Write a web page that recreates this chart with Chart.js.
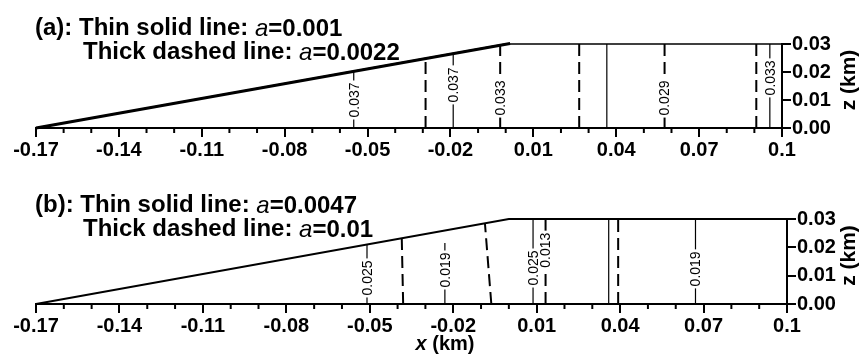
<!DOCTYPE html>
<html>
<head>
<meta charset="utf-8">
<script src="https://cdn.jsdelivr.net/npm/chart.js@4.4.1/dist/chart.umd.min.js"></script>
<style>
body { margin: 0; background: #fff; }
#wrap { position: relative; width: 861px; height: 354px; }
canvas { position: absolute; left: 0; }
</style>
</head>
<body>
<div id="wrap">
  <canvas id="chartA" width="861" height="177" style="top:0px"></canvas>
  <canvas id="chartB" width="861" height="177" style="top:177px"></canvas>
</div>
<script>
// axis ticks
var xTickValues = [-0.17, -0.14, -0.11, -0.08, -0.05, -0.02, 0.01, 0.04, 0.07, 0.1];
var xTickLabels = ['-0.17', '-0.14', '-0.11', '-0.08', '-0.05', '-0.02', '0.01', '0.04', '0.07', '0.1'];
var xMinorValues = [-0.16, -0.15, -0.13, -0.12, -0.10, -0.09, -0.07, -0.06, -0.04, -0.03,
                    -0.01, 0.0, 0.02, 0.03, 0.05, 0.06, 0.08, 0.09];
var zTickValues = [0, 0.01, 0.02, 0.03];
var zTickLabels = ['0.00', '0.01', '0.02', '0.03'];

// domain boundary (beach slope + flat top)
var surfaceX = [-0.17, 0.0, 0.1];
var surfaceZ = [0, 0.03, 0.03];
var aSlopeX = [-0.17, 0.0016];
var aSlopeZ = [0, 0.0302];

// panel (a) contours
var aKind   = ['thin', 'dash', 'thin', 'dash', 'dash', 'thin', 'dash', 'dash', 'thin'];
var aXBot   = [-0.055, -0.029, -0.019, -0.002, 0.0266, 0.0366, 0.0575, 0.0907, 0.0956];
var aXTop   = [-0.055, -0.029, -0.019, -0.002, 0.0266, 0.0366, 0.0575, 0.0907, 0.0956];
var aZTop   = [0.0203, 0.0249, 0.0266, 0.0296, 0.03, 0.03, 0.03, 0.03, 0.03];
var aLabel  = ['0.037', '', '0.037', '0.033', '', '', '0.029', '', '0.033'];
var aLabelZ = [0.010, 0, 0.0154, 0.0107, 0, 0, 0.0107, 0, 0.0179];

// panel (b) contours
var bKind   = ['thin', 'dash', 'thin', 'dash', 'thin', 'dash', 'thin', 'dash', 'thin'];
var bXBot   = [-0.051, -0.038, -0.023, -0.0063, 0.0087, 0.0132, 0.0359, 0.0393, 0.0671];
var bXTop   = [-0.051, -0.0385, -0.023, -0.0086, 0.0087, 0.0132, 0.0359, 0.0393, 0.0671];
var bZTop   = [0.021, 0.0232, 0.0215, 0.0285, 0.03, 0.03, 0.03, 0.03, 0.03];
var bLabel  = ['0.025', '', '0.019', '', '0.025', '0.013', '', '', '0.019'];
var bLabelZ = [0.0092, 0, 0.012, 0, 0.0127, 0.019, 0, 0, 0.0124];

var titleA = [['(a): Thin solid line: ', 'a', '=0.001'], ['Thick dashed line: ', 'a', '=0.0022']];
var titleB = [['(b): Thin solid line: ', 'a', '=0.0047'], ['Thick dashed line: ', 'a', '=0.01']];

var FONT = '"Liberation Sans", Arial, Helvetica, sans-serif';

function lineSet(xs, zs, width, dash) {
    var pts = [];
    for (var i = 0; i < xs.length; i++) pts.push({x: xs[i], y: zs[i]});
    return {
        data: pts, showLine: true, borderColor: '#000', borderWidth: width,
        borderDash: dash, pointRadius: 0, fill: false, clip: false
    };
}

function contourSets(kind, xb, xt, zt) {
    var sets = [];
    for (var i = 0; i < kind.length; i++) {
        var dash = kind[i] == 'dash';
        sets.push(lineSet([xb[i], xt[i]], [0, zt[i]], dash ? 2 : 1.2, dash ? [12, 6] : []));
    }
    return sets;
}

function drawTitleLine(ctx, parts, x, y) {
    var fonts = ['bold 24px ' + FONT, 'italic 24px ' + FONT, 'bold 24px ' + FONT];
    var offs = [0, 1, 1];
    for (var i = 0; i < parts.length; i++) {
        ctx.font = fonts[i];
        ctx.fillText(parts[i], x, y + offs[i]);
        x += ctx.measureText(parts[i]).width;
    }
}

function makePlugin(p) {
    return {
        id: 'extras',
        afterDraw: function(chart) {
            var ctx = chart.ctx;
            var xs = chart.scales.x, ys = chart.scales.y;
            var area = chart.chartArea;
            ctx.save();
            ctx.fillStyle = '#000';
            ctx.strokeStyle = '#000';
            // minor x ticks
            ctx.lineWidth = 2;
            xMinorValues.forEach(function(v) {
                var px = xs.getPixelForValue(v);
                ctx.beginPath();
                ctx.moveTo(px, area.bottom);
                ctx.lineTo(px, area.bottom + 5);
                ctx.stroke();
            });
            // contour labels
            ctx.font = '14px ' + FONT;
            ctx.textAlign = 'center';
            ctx.textBaseline = 'middle';
            for (var i = 0; i < p.labels.length; i++) {
                if (!p.labels[i]) continue;
                var cx = xs.getPixelForValue((p.xb[i] + p.xt[i]) / 2);
                var cy = ys.getPixelForValue(p.labelZ[i]);
                var w = ctx.measureText(p.labels[i]).width;
                ctx.save();
                ctx.translate(cx, cy);
                ctx.rotate(-Math.PI / 2);
                ctx.fillStyle = '#fff';
                ctx.fillRect(-w / 2 - 2, -6, w + 4, 12);
                ctx.fillStyle = '#000';
                ctx.fillText(p.labels[i], 0, 1);
                ctx.restore();
            }
            // titles
            ctx.textAlign = 'left';
            ctx.textBaseline = 'alphabetic';
            drawTitleLine(ctx, p.title[0], 35, 35);
            drawTitleLine(ctx, p.title[1], 83, 59);
            // z axis title
            ctx.save();
            ctx.translate(849, (area.top + area.bottom) / 2 - 6);
            ctx.rotate(-Math.PI / 2);
            ctx.textAlign = 'center';
            ctx.textBaseline = 'middle';
            ctx.font = 'bold 21px ' + FONT;
            ctx.fillText('z (km)', 0, 0);
            ctx.restore();
            // x axis title
            if (p.xTitle) {
                ctx.textAlign = 'left';
                ctx.font = 'italic bold 20px ' + FONT;
                var wx = ctx.measureText('x').width;
                ctx.font = 'bold 20px ' + FONT;
                var wr = ctx.measureText(' (km)').width;
                var sx = 445 - (wx + wr) / 2;
                ctx.font = 'italic bold 20px ' + FONT;
                ctx.fillText('x', sx, 173);
                ctx.font = 'bold 20px ' + FONT;
                ctx.fillText(' (km)', sx + wx, 173);
            }
            ctx.restore();
        }
    };
}

function makePanel(id, p) {
    var datasets = [lineSet(surfaceX, surfaceZ, p.surfaceWidth, [])];
    if (p.slopeX) datasets.push(lineSet(p.slopeX, p.slopeZ, 3, []));
    datasets = datasets.concat(contourSets(p.kind, p.xb, p.xt, p.zt));
    var ctx = document.getElementById(id).getContext('2d');
    return new Chart(ctx, {
        type: 'scatter',
        data: { datasets: datasets },
        options: {
            responsive: false,
            animation: false,
            devicePixelRatio: 1,
            layout: { padding: { left: p.left, top: p.top, right: 0, bottom: 0 } },
            plugins: { legend: { display: false }, tooltip: { enabled: false } },
            scales: {
                x: {
                    type: 'linear', position: 'bottom', min: -0.17, max: 0.1,
                    afterBuildTicks: function(s) { s.ticks = xTickValues.map(function(v) { return {value: v}; }); },
                    afterFit: function(s) { s.height = p.xHeight; },
                    ticks: {
                        autoSkip: false, maxRotation: 0, padding: 1, color: '#000',
                        font: { family: FONT, size: 20, weight: 'bold' },
                        callback: function(v, i) { return xTickLabels[i]; }
                    },
                    grid: { drawOnChartArea: false, drawTicks: true, tickLength: 9, color: '#000', lineWidth: 2 },
                    border: { display: true, color: '#000', width: 2 }
                },
                y: {
                    type: 'linear', position: 'right', min: 0, max: 0.03,
                    afterBuildTicks: function(s) { s.ticks = zTickValues.map(function(v) { return {value: v}; }); },
                    afterFit: function(s) { s.width = p.yWidth; },
                    ticks: {
                        padding: 1, color: '#000',
                        font: { family: FONT, size: 20, weight: 'bold' },
                        callback: function(v, i) { return zTickLabels[i]; }
                    },
                    grid: { drawOnChartArea: false, drawTicks: true, tickLength: 9, color: '#000', lineWidth: 2 },
                    border: { display: true, color: '#000', width: 2 }
                }
            }
        },
        plugins: [makePlugin(p)]
    });
}

var chartA = makePanel('chartA', {
    kind: aKind, xb: aXBot, xt: aXTop, zt: aZTop, labels: aLabel, labelZ: aLabelZ,
    title: titleA, slopeX: aSlopeX, slopeZ: aSlopeZ, surfaceWidth: 1.5,
    left: 36, top: 44, xHeight: 49, yWidth: 79, xTitle: false
});
var chartB = makePanel('chartB', {
    kind: bKind, xb: bXBot, xt: bXTop, zt: bZTop, labels: bLabel, labelZ: bLabelZ,
    title: titleB, surfaceWidth: 1.8,
    left: 36, top: 42, xHeight: 50, yWidth: 74, xTitle: true
});
</script>
</body>
</html>
